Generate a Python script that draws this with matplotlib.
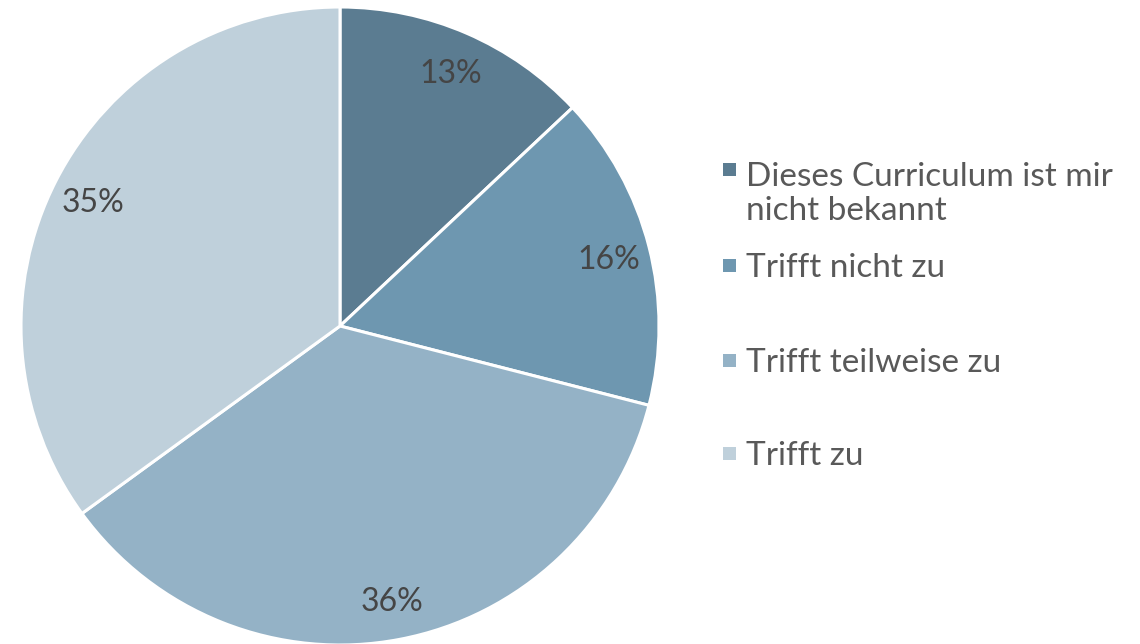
import matplotlib
matplotlib.use('Agg')
import matplotlib.pyplot as plt
from matplotlib.patches import Rectangle

# Daten
categories = ['Dieses Curriculum ist mir\nnicht bekannt', 'Trifft nicht zu',
              'Trifft teilweise zu', 'Trifft zu']
shares = [13, 16, 36, 35]
colors = ['#5B7C91', '#6E97B0', '#94B2C6', '#BFD0DB']

text_color = '#595959'
plt.rcParams['font.family'] = ['Lato', 'DejaVu Sans']

W, H = 1140, 644
fig = plt.figure(figsize=(W / 100, H / 100), dpi=100)

# Kreis: Mittelpunkt ca. (340, 326), Radius ca. 319 px
cx, cy, r = 340, 326, 319
ax = fig.add_axes([(cx - r) / W, (H - cy - r) / H, 2 * r / W, 2 * r / H])
wedges, texts = ax.pie(shares, colors=colors, startangle=90, counterclock=False,
                       radius=1.0, labels=[f'{v}%' for v in shares],
                       labeldistance=0.87,
                       wedgeprops=dict(edgecolor='white', linewidth=2.2),
                       textprops=dict(color='#454545', fontsize=23))
for t in texts:
    t.set_ha('center')
    t.set_va('center_baseline')
ax.set_xlim(-1, 1)
ax.set_ylim(-1, 1)
ax.set_aspect('equal')
ax.axis('off')

# Legende (manuell platziert)
marker_y = [170, 265, 360, 453]
line_h = 38
for lab, col, y in zip(categories, colors, marker_y):
    fig.patches.append(Rectangle((723 / W, (H - y - 6.5) / H), 13 / W, 13 / H,
                                 transform=fig.transFigure, facecolor=col,
                                 edgecolor='none'))
    n = lab.count('\n')
    fig.text(746 / W, (H - y - 12 - n * line_h) / H, lab, color=text_color,
             fontsize=24, ha='left', va='baseline', linespacing=1.15)

fig.savefig('out.png', dpi=100)
